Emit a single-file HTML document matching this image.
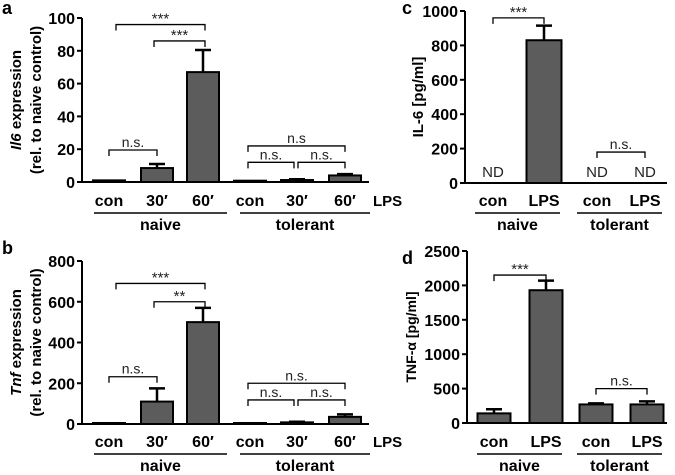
<!DOCTYPE html>
<html><head><meta charset="utf-8"><style>
body{margin:0;background:#fff}
svg{display:block;font-family:"Liberation Sans",Arial,sans-serif}
</style></head><body>
<svg id="fig" width="675" height="475" viewBox="0 0 675 475" xmlns="http://www.w3.org/2000/svg"></svg>
<script>
const catsA = ["con","30′","60′","con","30′","60′"];
const valsA = [1, 8.5, 67, 0.8, 1.2, 4];
const errA  = [0, 2.5, 13.5, 0, 0.5, 0.8];
const ticksA = [0,20,40,60,80,100];
const catsB = ["con","30′","60′","con","30′","60′"];
const valsB = [3, 110, 500, 3, 8, 35];
const errB  = [0, 65, 70, 0, 3, 12];
const ticksB = [0,200,400,600,800];
const catsC = ["con","LPS","con","LPS"];
const valsC = [0, 830, 0, 0];
const errC  = [0, 85, 0, 0];
const ticksC = [0,200,400,600,800,1000];
const catsD = ["con","LPS","con","LPS"];
const valsD = [140, 1930, 270, 270];
const errD  = [60, 140, 15, 45];
const ticksD = [0,500,1000,1500,2000,2500];

const NS="http://www.w3.org/2000/svg";
const svg=document.getElementById('fig');
function mk(tag,attrs,parent,text){const e=document.createElementNS(NS,tag);for(const k in attrs)e.setAttribute(k,attrs[k]);if(text!==undefined)e.textContent=text;(parent||svg).appendChild(e);return e;}

function panel(p){
  const g=mk('g',{});
  
  
  const max=p.ticks[p.ticks.length-1];
  const y=v=>p.y0-(v/max)*(p.y0-p.yTop);
  const L=mk('text',{x:p.lx,y:p.ly,'font-size':18,'font-weight':'bold'},g,p.id);
  
  
  const ya=mk('line',{x1:p.ax,y1:p.yTop,x2:p.ax,y2:p.y0,stroke:'#000','stroke-width':2},g);
  
  const xa=mk('line',{x1:p.ax,y1:p.y0,x2:p.axEnd,y2:p.y0,stroke:'#000','stroke-width':2},g);
  
  p.ticks.forEach(t=>{
    mk('line',{x1:p.ax-5,y1:y(t),x2:p.ax,y2:y(t),stroke:'#000','stroke-width':2},g);
    const tl=mk('text',{x:p.ax-7,y:y(t)+6,'font-size':16,'font-weight':'bold','text-anchor':'end'},g,String(t));
    
  });
  const yt=mk('text',{transform:`translate(${p.tx},${(p.y0+p.yTop)/2}) rotate(-90)`,'font-size':p.tfs||15,'font-weight':'bold','text-anchor':'middle'},g);
  
  if(p.italic){mk('tspan',{'font-style':'italic'},yt,p.italic);mk('tspan',{},yt,p.title);}else yt.textContent=p.title;
  if(p.title2){const y2=mk('text',{transform:`translate(${p.tx+20},${(p.y0+p.yTop)/2}) rotate(-90)`,'font-size':15,'font-weight':'bold','text-anchor':'middle'},g,p.title2);
    }
  p.vals.forEach((v,i)=>{
    const cx=p.cx[i];
    if(p.nd && p.nd[i]){const n=mk('text',{x:cx,y:p.y0-6,'font-size':15,'text-anchor':'middle',fill:'#222'},g,'ND');
      }
    else{
      const h=Math.max(p.y0-y(v),1);
      const r=mk('rect',{x:cx-p.bw/2,y:p.y0-h,width:p.bw,height:h,fill:'#5c5c5c',stroke:'#000','stroke-width':2},g);
      
      if(p.err[i]>0){
        const e=mk('path',{d:`M${cx},${y(v)} V${y(v+p.err[i])} M${cx-8},${y(v+p.err[i])} H${cx+8}`,stroke:'#000','stroke-width':2.5,fill:'none'},g);
        
      }
    }
    const cl=mk('text',{x:cx,y:p.catY,'font-size':16,'font-weight':'bold','text-anchor':'middle'},g,p.cats[i]);
    
  });
  if(p.lps){const l=mk('text',{x:p.lps,y:p.catY,'font-size':15,'font-weight':'bold'},g,'LPS');
    }
  p.groups.forEach(gr=>{
    mk('line',{x1:gr[0],y1:p.catY+7,x2:gr[1],y2:p.catY+7,stroke:'#000','stroke-width':1.5},g);
    const t=mk('text',{x:(gr[0]+gr[1])/2,y:p.catY+24,'font-size':16,'font-weight':'bold','text-anchor':'middle'},g,gr[2]);
    
  });
  p.br.forEach(b=>{
    const by=y(b[2]);
    const pth=mk('path',{d:`M${b[0]},${by+6} V${by} H${b[1]} V${by+6}`,stroke:'#000','stroke-width':1.3,fill:'none'},g);
    
    const star=b[3].indexOf('*')>=0;
    const t=mk('text',{x:(b[0]+b[1])/2,y:by-(star?1:3),'font-size':star?15:14,'text-anchor':'middle',fill:'#222'},g,b[3]);
    
  });
}

panel({id:'a',lx:2,ly:14,ax:82,axEnd:369,yTop:18,y0:182,ticks:ticksA,vals:valsA,err:errA,cats:catsA,
  cx:[109,157,203,250,297,345],bw:32,catY:206,lps:373,tx:21,italic:'Il6',title:' expression',title2:'(rel. to naive control)',
  groups:[[94,227,'naive'],[240,370,'tolerant']],
  br:[[116,205,96,'***'],[154,205,86,'***'],[109,157,19.5,'n.s.'],[248,345,22,'n.s'],[248,294,12,'n.s.'],[298,345,12,'n.s.']]});
panel({id:'b',lx:2,ly:254,ax:82,axEnd:369,yTop:261,y0:424,ticks:ticksB,vals:valsB,err:errB,cats:catsB,
  cx:[109,157,203,250,297,345],bw:32,catY:447,lps:373,tx:21,italic:'Tnf',title:' expression',title2:'(rel. to naive control)',
  groups:[[94,227,'naive'],[240,370,'tolerant']],
  br:[[116,205,690,'***'],[154,205,600,'**'],[109,157,232,'n.s.'],[248,345,200,'n.s.'],[248,294,118,'n.s.'],[298,345,118,'n.s.']]});
panel({id:'c',lx:402,ly:14,ax:465,axEnd:667,yTop:11,y0:183,ticks:ticksC,vals:valsC,err:errC,cats:catsC,nd:[1,0,1,1],
  cx:[493,544,597,645],bw:35,catY:206,tx:423,title:'IL-6 [pg/ml]',
  groups:[[475,560,'naive'],[577,662,'tolerant']],
  br:[[493,544,960,'***'],[597,645,180,'n.s.']]});
panel({id:'d',lx:402,ly:264,ax:467,axEnd:667,yTop:251,y0:423,ticks:ticksD,vals:valsD,err:errD,cats:catsD,
  cx:[494,546,596,647],bw:33,catY:447,tx:416,tfs:14,title:'TNF-α [pg/ml]',
  groups:[[477,562,'naive'],[577,662,'tolerant']],
  br:[[494,546,2150,'***'],[596,647,500,'n.s.']]});
</script>
</body></html>
